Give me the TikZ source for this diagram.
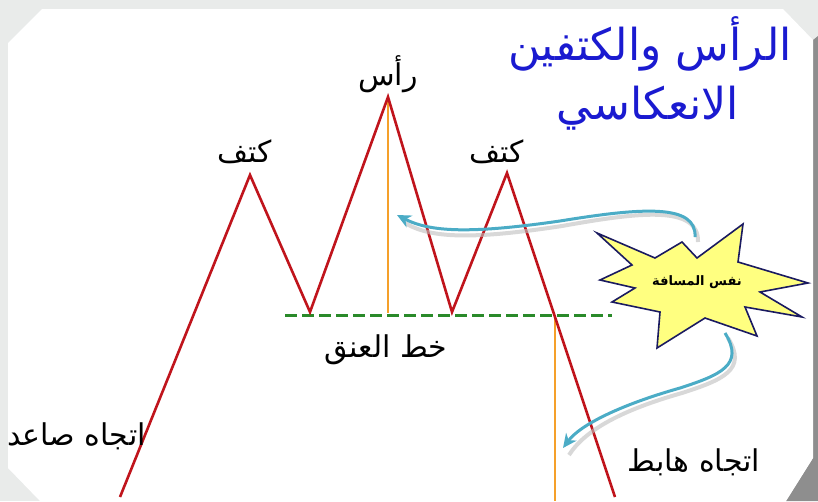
\documentclass[tikz,border=0pt]{standalone}
\usepackage{fontspec}
\newfontfamily\arabicfont[Script=Arabic]{DejaVu Sans}
\TeXXeTstate=1
\usetikzlibrary{arrows.meta}
\definecolor{bggray}{HTML}{E9EBEA}
\definecolor{edgegray}{HTML}{8E8E8E}
\definecolor{trendred}{HTML}{C0141C}
\definecolor{measorange}{HTML}{F5A02A}
\definecolor{neckgreen}{HTML}{2A8A2A}
\definecolor{arrowcyan}{HTML}{4BACC6}
\definecolor{titleblue}{HTML}{1A1AD0}
\definecolor{staryellow}{HTML}{FFFF80}
\definecolor{starnavy}{HTML}{1A1A60}
\tikzset{
  trend/.style={draw=trendred, line width=2.6pt, line join=miter},
  measure/.style={draw=measorange, line width=2.2pt},
  neck/.style={draw=neckgreen, line width=3pt, dash pattern=on 12pt off 5pt},
  callout/.style={draw=arrowcyan, line width=3pt, -{Stealth[length=14pt,width=13pt]}},
  calloutshadow/.style={draw=black!25, line width=4pt, opacity=0.6},
  lbl/.style={font=\arabicfont\fontsize{30}{34}\selectfont, text=black, inner sep=0pt},
  ttl/.style={font=\arabicfont\fontsize{44}{50}\selectfont, text=titleblue, inner sep=0pt},
}
\begin{document}
\begin{tikzpicture}[x=1pt,y=-1pt]
\useasboundingbox (0,0) rectangle (818,501);
\fill[bggray] (0,0) rectangle (818,501);
\fill[edgegray] (813,40) -- (818,36) -- (818,501) -- (786,501) -- (813,458) -- cycle;
\fill[white] (8,43) -- (42,9) -- (783,9) -- (813,40) -- (813,458) -- (786,501) -- (40,501) -- (8,468) -- cycle;
\begin{scope}
\clip (8,43) -- (42,9) -- (783,9) -- (813,40) -- (813,458) -- (786,501) -- (40,501) -- (8,468) -- cycle;
% title
\node[ttl] (t1) at (650,44) {\beginR الرأس والكتفين\endR};
\node[ttl] (t2) at (648,108) {\beginR الانعكاسي\endR};
% price zigzag
\coordinate (p0) at (120,497);
\coordinate (ls) at (250,175);
\coordinate (v1) at (310,312);
\coordinate (hd) at (388,97);
\coordinate (v2) at (452,312);
\coordinate (rs) at (507,173);
\coordinate (p6) at (615,497);
\coordinate (hb) at (388,313);
\coordinate (bk) at (555,315);
\coordinate (bb) at (555,501);
\draw[measure] (hd) -- (hb);
\draw[measure] (bk) -- (bb);
\coordinate (n1) at (285,315);
\coordinate (n2) at (612,315);
\draw[neck] (n1) -- (n2);
\draw[trend] (p0) -- (ls) -- (v1) -- (hd) -- (v2) -- (rs) -- (p6);
% labels
\node[lbl] (l1) at (245,152) {\beginR كتف\endR};
\node[lbl] (l2) at (388,74) {\beginR رأس\endR};
\node[lbl] (l3) at (497,152) {\beginR كتف\endR};
\node[lbl] (l4) at (386,350) {\beginR خط العنق\endR};
\node[lbl, anchor=east] (l5) at (146,436) {\beginR اتجاه صاعد\endR};
\node[lbl] (l6) at (694,462) {\beginR اتجاه هابط\endR};
% star burst
\draw[fill=staryellow, draw=starnavy, line width=1.6pt, line join=miter]
  (597,233) -- (655,258) -- (682,242) -- (697,258) -- (743,224) -- (738,262)
  -- (808,283) -- (760,292) -- (802,317) -- (745,307) -- (757,336) -- (705,318)
  -- (657,348) -- (660,312) -- (612,302) -- (635,288) -- (600,280) -- (632,265) -- cycle;
\node[font=\arabicfont\bfseries\fontsize{13}{15}\selectfont, inner sep=0pt] (st) at (697,282) {\beginR نفس المسافة\endR};
\coordinate (a1s) at (695,237);
\coordinate (a1e) at (397,215);
\coordinate (a2s) at (725,333);
\coordinate (a2e) at (563,448);
% arrows with shadow
\draw[calloutshadow] ([shift={(3,5)}]a1s) .. controls (699,205) and (640,212) .. (562,226) .. controls (470,240) and (430,238) .. ([shift={(8,8)}]a1e);
\draw[callout] (a1s) .. controls (697,203) and (640,208) .. (560,221) .. controls (470,234) and (430,232) .. (a1e);
\draw[calloutshadow] ([shift={(3,5)}]a2s) .. controls (748,370) and (722,380) .. (682,393) .. controls (622,410) and (585,430) .. ([shift={(6,7)}]a2e);
\draw[callout] (a2s) .. controls (745,365) and (720,375) .. (680,388) .. controls (620,405) and (580,425) .. (a2e);
\end{scope}
\end{tikzpicture}
\end{document}
